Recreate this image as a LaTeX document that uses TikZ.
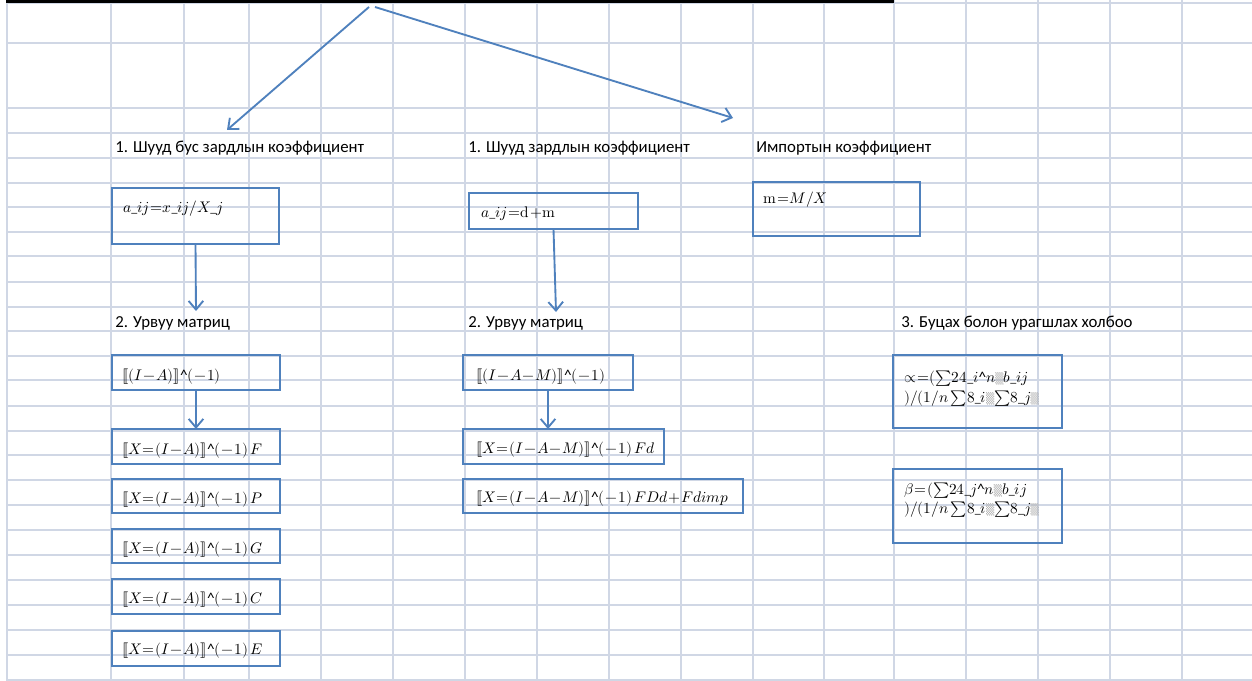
\documentclass[tikz,border=0pt]{standalone}
\usepackage{fontspec}
\usepackage{amsmath}
\usepackage{unicode-math}
\setmainfont{Carlito}
\setmathfont{Latin Modern Math}
\newfontfamily\dejavu{DejaVu Sans}
\usetikzlibrary{arrows.meta}
\definecolor{gridc}{RGB}{208,215,229}
\definecolor{ofblue}{RGB}{79,129,189}
\newcommand\xus{\mbox{\fontsize{9}{10}\selectfont\_}}
\newcommand\xcar{\mbox{\textasciicircum}}
\newcommand\xsh{\mbox{\color{gray!60}\dejavu\fontsize{8}{9}\selectfont ▒}}
\newcommand\eqq{\mathord{\mkern1mu=\mkern1mu}}
\newcommand\mnn{\mathord{\mkern1mu−\mkern1mu}}
\newcommand\pls{\mathord{\mkern1mu+\mkern1mu}}
\newcommand\mkbox[5]{%
  \node[boxst, anchor=north west, minimum width={(#4-#2)*0.75pt}, minimum height={(#5-#3)*0.75pt}] (#1) at (#2,#3) {};}
\tikzset{
  gridline/.style={draw=gridc, line width=1.1pt},
  boxst/.style={draw=ofblue, line width=1.4pt, fill=none, inner sep=0pt, outer sep=0pt, rectangle},
  arr/.style={draw=ofblue, line width=1.4pt, -{Straight Barb[length=6.5pt,width=11pt]}},
  lbl/.style={anchor=base west, inner sep=0pt, font=\fontsize{12.6}{14}\selectfont},
  frm/.style={anchor=base west, inner sep=0pt, font=\fontsize{11.5}{13}\selectfont},
}
\begin{document}
\begin{tikzpicture}[x=0.75pt,y=-0.75pt]
\useasboundingbox[fill=white] (0,0) rectangle (1252,681);
% grid
\foreach \x in {7,111,184,249,321,393,465,537,609,681,753,824,894,966,1038,1110,1182}
  \draw[gridline] (\x,0) -- (\x,681);
\foreach \y in {3,43,108,133,158,183,207,232,256,282,307,331,356,380,406,431,455,480,505,530,555,580,605,630,655,680}
  \draw[gridline] (7,\y) -- (1252,\y);
% black top border
\draw[line width=1.9pt] (7,1.6) -- (893,1.6);
\foreach \x in {7,111,184,249,321,393,465,537,609,681,753,893}
  \draw[line width=1.3pt] (\x,0) -- (\x,3.5);

% boxes
\mkbox{bA}{112}{188}{279}{244}
\mkbox{bB}{469}{193}{638}{229}
\mkbox{bC}{753}{182}{920}{236}
\mkbox{ca}{112}{355}{280}{390}
\mkbox{cb}{112}{429}{280}{464}
\mkbox{cc}{112}{479}{280}{513}
\mkbox{cd}{112}{529}{280}{563}
\mkbox{ce}{112}{579}{280}{614}
\mkbox{cf}{112}{631}{280}{666}
\mkbox{da}{463}{355}{633}{390}
\mkbox{db}{463}{429}{664}{464}
\mkbox{dc}{463}{479}{743}{513}
\mkbox{al}{893}{355}{1062}{428}
\mkbox{be}{893}{469}{1062}{543}

% labels
\node[lbl] (l1a) at (115,152) {1. Шууд бус зардлын коэффициент};
\node[lbl] (l1b) at (468,152) {1. Шууд зардлын коэффициент};
\node[lbl] (l1c) at (756,152) {Импортын коэффициент};
\node[lbl] (l2a) at (115,327) {2. Урвуу матриц};
\node[lbl] (l2b) at (468,327) {2. Урвуу матриц};
\node[lbl] (l3)  at (901,327) {3. Буцах болон урагшлах холбоо};

% formulas
\node[frm] (fA) at (123,212) {$a\xus ij\eqq x\xus ij/X\xus j$};
\node[frm] (fB) at (481,217) {$a\xus ij\eqq\symup{d}\pls\symup{m}$};
\node[frm] (fC) at (763,204) {$\symup{m}\eqq M/X$};
\node[frm] (fca) at (122,380) {$⟦(I\mnn A)⟧\xcar(\mnn 1)$};
\node[frm] (fcb) at (122,454) {$⟦X\eqq(I\mnn A)⟧\xcar(\mnn 1)\,F$};
\node[frm] (fcc) at (122,503) {$⟦X\eqq(I\mnn A)⟧\xcar(\mnn 1)\,P$};
\node[frm] (fcd) at (122,553) {$⟦X\eqq(I\mnn A)⟧\xcar(\mnn 1)\,G$};
\node[frm] (fce) at (122,603) {$⟦X\eqq(I\mnn A)⟧\xcar(\mnn 1)\,C$};
\node[frm] (fcf) at (122,654) {$⟦X\eqq(I\mnn A)⟧\xcar(\mnn 1)\,E$};
\node[frm] (fda) at (476,380) {$⟦(I\mnn A\mnn M)⟧\xcar(\mnn 1)$};
\node[frm] (fdb) at (476,453) {$⟦X\eqq(I\mnn A\mnn M)⟧\xcar(\mnn 1)\,Fd$};
\node[frm] (fdc) at (476,502) {$⟦X\eqq(I\mnn A\mnn M)⟧\xcar(\mnn 1)\,FDd\pls Fdimp$};
\node[frm] (fal1) at (904,382) {$\mathord{∝}\eqq(\mathord{∑}24\xus i\xcar n\xsh b\xus ij$};
\node[frm] (fal2) at (904,402) {$)/(1/n\,\mathord{∑}8\xus i\xsh\mathord{∑}8\xus j\xsh$};
\node[frm] (fbe1) at (904,494) {$β\eqq(\mathord{∑}24\xus j\xcar n\xsh b\xus ij$};
\node[frm] (fbe2) at (904,513) {$)/(1/n\,\mathord{∑}8\xus i\xsh\mathord{∑}8\xus j\xsh$};

% connectors
\coordinate (top1) at (369,7);
\coordinate (top2) at (375,7);
\coordinate (endL) at (227,130);
\coordinate (endR) at (733,118);
\coordinate (dA) at (196,311);
\coordinate (dB) at (556,312);
\draw[arr] (top1) -- (endL);
\draw[arr] (top2) -- (endR);
\draw[arr] (bA.south) -- (dA);
\draw[arr] (bB.south) -- (dB);
\draw[arr] (ca.south) -- (cb.north);
\draw[arr] (da.south) -- (da.south |- db.north);
\end{tikzpicture}
\end{document}
